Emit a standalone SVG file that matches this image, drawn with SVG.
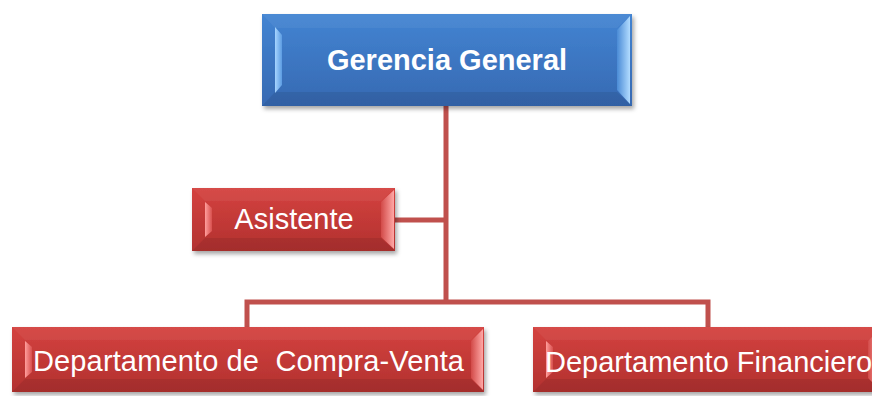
<svg xmlns="http://www.w3.org/2000/svg" width="872" height="396" viewBox="0 0 872 396">
<defs>
<linearGradient id="gBlue" x1="0" y1="0" x2="0" y2="1">
<stop offset="0" stop-color="#4384d2"/>
<stop offset="1" stop-color="#3669b2"/>
</linearGradient>
<linearGradient id="gRed" x1="0" y1="0" x2="0" y2="1">
<stop offset="0" stop-color="#d4423f"/>
<stop offset="1" stop-color="#b2312f"/>
</linearGradient>
<linearGradient id="bBlueR" x1="0" y1="0" x2="1" y2="0">
<stop offset="0" stop-color="#4a8bd6"/>
<stop offset="1" stop-color="#b2dcff"/>
</linearGradient>
<linearGradient id="bBlueL" x1="0" y1="0" x2="1" y2="0">
<stop offset="0" stop-color="#a6d4ff"/>
<stop offset="1" stop-color="#5c9ce2"/>
</linearGradient>
<linearGradient id="bRedR" x1="0" y1="0" x2="1" y2="0">
<stop offset="0" stop-color="#d24a48"/>
<stop offset="1" stop-color="#ffa8a6"/>
</linearGradient>
<linearGradient id="bRedL" x1="0" y1="0" x2="1" y2="0">
<stop offset="0" stop-color="#ff9e9c"/>
<stop offset="1" stop-color="#d8504e"/>
</linearGradient>
<filter id="sh" x="-10%" y="-20%" width="120%" height="150%">
<feDropShadow dx="2" dy="3" stdDeviation="2" flood-color="#000" flood-opacity="0.35"/>
</filter>
</defs>
<style>
.lbl{font-family:"Liberation Sans",Arial,sans-serif;font-size:29px;fill:#ffffff;white-space:pre}
.b{font-weight:bold}
.conn{stroke:#c0504d;stroke-width:5;fill:none}
.top{fill:#ffffff;opacity:0.05}
.bot{fill:#000000;opacity:0.08}
</style>
<g id="connectors">
<path class="conn" d="M446 106 V302"/>
<path class="conn" d="M395 220 H446"/>
<path class="conn" d="M247 327 V302 H708 V327"/>
</g>
<g id="gerencia">
<rect x="262" y="14" width="370" height="92" fill="url(#gBlue)" filter="url(#sh)"/>
<polygon class="top" points="262,14 632,14 617,28 275,28"/>
<polygon class="bot" points="275,92 617,92 632,106 262,106"/>
<polygon points="275,27 282,35 282,85 275,93" fill="url(#bBlueL)"/>
<polygon points="617,30 630,16 630,104 617,90" fill="url(#bBlueR)"/>
<text class="lbl b" x="447" y="70" text-anchor="middle">Gerencia General</text>
</g>
<g id="asistente">
<rect x="192" y="188" width="203" height="63" fill="url(#gRed)" filter="url(#sh)"/>
<polygon class="top" points="192,188 395,188 381,201 205,201"/>
<polygon class="bot" points="205,238 381,238 395,251 192,251"/>
<polygon points="205,202 212,208 212,231 205,237" fill="url(#bRedL)"/>
<polygon points="381,202 394,190 394,249 381,237" fill="url(#bRedR)"/>
<text class="lbl" x="294" y="229" text-anchor="middle">Asistente</text>
</g>
<g id="compraventa">
<rect x="12" y="327" width="472" height="65" fill="url(#gRed)" filter="url(#sh)"/>
<polygon class="top" points="12,327 484,327 471,340 25,340"/>
<polygon class="bot" points="25,379 471,379 484,392 12,392"/>
<polygon points="25,341 32,347 32,372 25,378" fill="url(#bRedL)"/>
<polygon points="471,341 483,329 483,390 471,378" fill="url(#bRedR)"/>
<text class="lbl" x="33" y="371" textLength="431" lengthAdjust="spacing">Departamento de  Compra-Venta</text>
</g>
<g id="financiero">
<rect x="533" y="327" width="350" height="65" fill="url(#gRed)" filter="url(#sh)"/>
<polygon class="top" points="533,327 883,327 870,340 546,340"/>
<polygon class="bot" points="546,379 870,379 883,392 533,392"/>
<polygon points="546,341 553,347 553,372 546,378" fill="url(#bRedL)"/>
<polygon points="868,341 880,329 880,390 868,378" fill="url(#bRedR)"/>
<text class="lbl" x="545" y="372">Departamento Financiero</text>
</g>
</svg>
